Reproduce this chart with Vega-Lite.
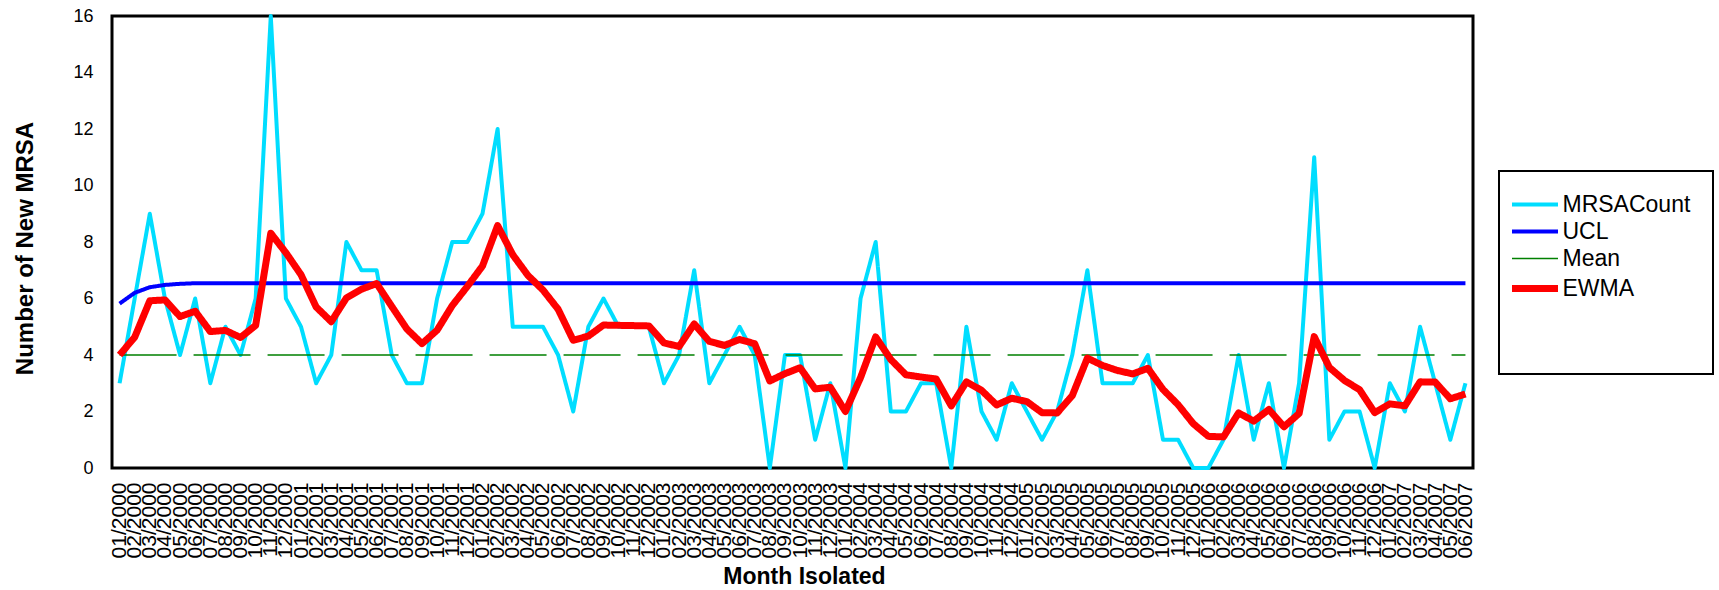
{
  "$schema": "https://vega.github.io/schema/vega-lite/v6.json",
  "width": 1361,
  "height": 452,
  "autosize": {"type": "none"},
  "padding": {"left": 112, "top": 16, "right": 246, "bottom": 122},
  "background": "white",
  "config": {
    "view": {"stroke": "black", "strokeWidth": 3},
    "font": "Liberation Sans",
    "legend": {"strokeWidth": 2}
  },
  "data": {
    "values": [
      {"month": "01/2000", "MRSACount": 3, "UCL": 5.82, "Mean": 4, "EWMA": 4.0},
      {"month": "02/2000", "MRSACount": 6, "UCL": 6.2, "Mean": 4, "EWMA": 4.63},
      {"month": "03/2000", "MRSACount": 9, "UCL": 6.4, "Mean": 4, "EWMA": 5.92},
      {"month": "04/2000", "MRSACount": 6, "UCL": 6.48, "Mean": 4, "EWMA": 5.95},
      {"month": "05/2000", "MRSACount": 4, "UCL": 6.52, "Mean": 4, "EWMA": 5.36},
      {"month": "06/2000", "MRSACount": 6, "UCL": 6.54, "Mean": 4, "EWMA": 5.55},
      {"month": "07/2000", "MRSACount": 3, "UCL": 6.54, "Mean": 4, "EWMA": 4.83},
      {"month": "08/2000", "MRSACount": 5, "UCL": 6.54, "Mean": 4, "EWMA": 4.87},
      {"month": "09/2000", "MRSACount": 4, "UCL": 6.54, "Mean": 4, "EWMA": 4.62},
      {"month": "10/2000", "MRSACount": 6, "UCL": 6.54, "Mean": 4, "EWMA": 5.05},
      {"month": "11/2000", "MRSACount": 16, "UCL": 6.54, "Mean": 4, "EWMA": 8.31},
      {"month": "12/2000", "MRSACount": 6, "UCL": 6.54, "Mean": 4, "EWMA": 7.62},
      {"month": "01/2001", "MRSACount": 5, "UCL": 6.54, "Mean": 4, "EWMA": 6.84},
      {"month": "02/2001", "MRSACount": 3, "UCL": 6.54, "Mean": 4, "EWMA": 5.7},
      {"month": "03/2001", "MRSACount": 4, "UCL": 6.54, "Mean": 4, "EWMA": 5.18},
      {"month": "04/2001", "MRSACount": 8, "UCL": 6.54, "Mean": 4, "EWMA": 6.02},
      {"month": "05/2001", "MRSACount": 7, "UCL": 6.54, "Mean": 4, "EWMA": 6.33},
      {"month": "06/2001", "MRSACount": 7, "UCL": 6.54, "Mean": 4, "EWMA": 6.53},
      {"month": "07/2001", "MRSACount": 4, "UCL": 6.54, "Mean": 4, "EWMA": 5.72},
      {"month": "08/2001", "MRSACount": 3, "UCL": 6.54, "Mean": 4, "EWMA": 4.92},
      {"month": "09/2001", "MRSACount": 3, "UCL": 6.54, "Mean": 4, "EWMA": 4.4},
      {"month": "10/2001", "MRSACount": 6, "UCL": 6.54, "Mean": 4, "EWMA": 4.88},
      {"month": "11/2001", "MRSACount": 8, "UCL": 6.54, "Mean": 4, "EWMA": 5.75},
      {"month": "12/2001", "MRSACount": 8, "UCL": 6.54, "Mean": 4, "EWMA": 6.43},
      {"month": "01/2002", "MRSACount": 9, "UCL": 6.54, "Mean": 4, "EWMA": 7.15},
      {"month": "02/2002", "MRSACount": 12, "UCL": 6.54, "Mean": 4, "EWMA": 8.58},
      {"month": "03/2002", "MRSACount": 5, "UCL": 6.54, "Mean": 4, "EWMA": 7.55},
      {"month": "04/2002", "MRSACount": 5, "UCL": 6.54, "Mean": 4, "EWMA": 6.82},
      {"month": "05/2002", "MRSACount": 5, "UCL": 6.54, "Mean": 4, "EWMA": 6.3},
      {"month": "06/2002", "MRSACount": 4, "UCL": 6.54, "Mean": 4, "EWMA": 5.62},
      {"month": "07/2002", "MRSACount": 2, "UCL": 6.54, "Mean": 4, "EWMA": 4.52},
      {"month": "08/2002", "MRSACount": 5, "UCL": 6.54, "Mean": 4, "EWMA": 4.67},
      {"month": "09/2002", "MRSACount": 6, "UCL": 6.54, "Mean": 4, "EWMA": 5.06},
      {"month": "10/2002", "MRSACount": 5, "UCL": 6.54, "Mean": 4, "EWMA": 5.05},
      {"month": "11/2002", "MRSACount": 5, "UCL": 6.54, "Mean": 4, "EWMA": 5.04},
      {"month": "12/2002", "MRSACount": 5, "UCL": 6.54, "Mean": 4, "EWMA": 5.03},
      {"month": "01/2003", "MRSACount": 3, "UCL": 6.54, "Mean": 4, "EWMA": 4.43},
      {"month": "02/2003", "MRSACount": 4, "UCL": 6.54, "Mean": 4, "EWMA": 4.3},
      {"month": "03/2003", "MRSACount": 7, "UCL": 6.54, "Mean": 4, "EWMA": 5.1},
      {"month": "04/2003", "MRSACount": 3, "UCL": 6.54, "Mean": 4, "EWMA": 4.48},
      {"month": "05/2003", "MRSACount": 4, "UCL": 6.54, "Mean": 4, "EWMA": 4.34},
      {"month": "06/2003", "MRSACount": 5, "UCL": 6.54, "Mean": 4, "EWMA": 4.55},
      {"month": "07/2003", "MRSACount": 4, "UCL": 6.54, "Mean": 4, "EWMA": 4.4},
      {"month": "08/2003", "MRSACount": 0, "UCL": 6.54, "Mean": 4, "EWMA": 3.08},
      {"month": "09/2003", "MRSACount": 4, "UCL": 6.54, "Mean": 4, "EWMA": 3.34},
      {"month": "10/2003", "MRSACount": 4, "UCL": 6.54, "Mean": 4, "EWMA": 3.55},
      {"month": "11/2003", "MRSACount": 1, "UCL": 6.54, "Mean": 4, "EWMA": 2.8},
      {"month": "12/2003", "MRSACount": 3, "UCL": 6.54, "Mean": 4, "EWMA": 2.86},
      {"month": "01/2004", "MRSACount": 0, "UCL": 6.54, "Mean": 4, "EWMA": 2.0},
      {"month": "02/2004", "MRSACount": 6, "UCL": 6.54, "Mean": 4, "EWMA": 3.2},
      {"month": "03/2004", "MRSACount": 8, "UCL": 6.54, "Mean": 4, "EWMA": 4.64},
      {"month": "04/2004", "MRSACount": 2, "UCL": 6.54, "Mean": 4, "EWMA": 3.84},
      {"month": "05/2004", "MRSACount": 2, "UCL": 6.54, "Mean": 4, "EWMA": 3.3},
      {"month": "06/2004", "MRSACount": 3, "UCL": 6.54, "Mean": 4, "EWMA": 3.22},
      {"month": "07/2004", "MRSACount": 3, "UCL": 6.54, "Mean": 4, "EWMA": 3.15},
      {"month": "08/2004", "MRSACount": 0, "UCL": 6.54, "Mean": 4, "EWMA": 2.2},
      {"month": "09/2004", "MRSACount": 5, "UCL": 6.54, "Mean": 4, "EWMA": 3.05},
      {"month": "10/2004", "MRSACount": 2, "UCL": 6.54, "Mean": 4, "EWMA": 2.75},
      {"month": "11/2004", "MRSACount": 1, "UCL": 6.54, "Mean": 4, "EWMA": 2.23},
      {"month": "12/2004", "MRSACount": 3, "UCL": 6.54, "Mean": 4, "EWMA": 2.47},
      {"month": "01/2005", "MRSACount": 2, "UCL": 6.54, "Mean": 4, "EWMA": 2.35},
      {"month": "02/2005", "MRSACount": 1, "UCL": 6.54, "Mean": 4, "EWMA": 1.96},
      {"month": "03/2005", "MRSACount": 2, "UCL": 6.54, "Mean": 4, "EWMA": 1.95},
      {"month": "04/2005", "MRSACount": 4, "UCL": 6.54, "Mean": 4, "EWMA": 2.56},
      {"month": "05/2005", "MRSACount": 7, "UCL": 6.54, "Mean": 4, "EWMA": 3.89},
      {"month": "06/2005", "MRSACount": 3, "UCL": 6.54, "Mean": 4, "EWMA": 3.63},
      {"month": "07/2005", "MRSACount": 3, "UCL": 6.54, "Mean": 4, "EWMA": 3.45},
      {"month": "08/2005", "MRSACount": 3, "UCL": 6.54, "Mean": 4, "EWMA": 3.33},
      {"month": "09/2005", "MRSACount": 4, "UCL": 6.54, "Mean": 4, "EWMA": 3.53},
      {"month": "10/2005", "MRSACount": 1, "UCL": 6.54, "Mean": 4, "EWMA": 2.78},
      {"month": "11/2005", "MRSACount": 1, "UCL": 6.54, "Mean": 4, "EWMA": 2.24},
      {"month": "12/2005", "MRSACount": 0, "UCL": 6.54, "Mean": 4, "EWMA": 1.57},
      {"month": "01/2006", "MRSACount": 0, "UCL": 6.54, "Mean": 4, "EWMA": 1.12},
      {"month": "02/2006", "MRSACount": 1, "UCL": 6.54, "Mean": 4, "EWMA": 1.1},
      {"month": "03/2006", "MRSACount": 4, "UCL": 6.54, "Mean": 4, "EWMA": 1.95},
      {"month": "04/2006", "MRSACount": 1, "UCL": 6.54, "Mean": 4, "EWMA": 1.66},
      {"month": "05/2006", "MRSACount": 3, "UCL": 6.54, "Mean": 4, "EWMA": 2.07},
      {"month": "06/2006", "MRSACount": 0, "UCL": 6.54, "Mean": 4, "EWMA": 1.46},
      {"month": "07/2006", "MRSACount": 3, "UCL": 6.54, "Mean": 4, "EWMA": 1.93},
      {"month": "08/2006", "MRSACount": 11, "UCL": 6.54, "Mean": 4, "EWMA": 4.65},
      {"month": "09/2006", "MRSACount": 1, "UCL": 6.54, "Mean": 4, "EWMA": 3.56},
      {"month": "10/2006", "MRSACount": 2, "UCL": 6.54, "Mean": 4, "EWMA": 3.1},
      {"month": "11/2006", "MRSACount": 2, "UCL": 6.54, "Mean": 4, "EWMA": 2.77},
      {"month": "12/2006", "MRSACount": 0, "UCL": 6.54, "Mean": 4, "EWMA": 1.96},
      {"month": "01/2007", "MRSACount": 3, "UCL": 6.54, "Mean": 4, "EWMA": 2.27},
      {"month": "02/2007", "MRSACount": 2, "UCL": 6.54, "Mean": 4, "EWMA": 2.2},
      {"month": "03/2007", "MRSACount": 5, "UCL": 6.54, "Mean": 4, "EWMA": 3.05},
      {"month": "04/2007", "MRSACount": 3, "UCL": 6.54, "Mean": 4, "EWMA": 3.04},
      {"month": "05/2007", "MRSACount": 1, "UCL": 6.54, "Mean": 4, "EWMA": 2.45},
      {"month": "06/2007", "MRSACount": 3, "UCL": 6.54, "Mean": 4, "EWMA": 2.62}
    ]
  },
  "transform": [
    {"fold": ["MRSACount", "UCL", "Mean", "EWMA"], "as": ["series", "value"]}
  ],
  "mark": {"type": "line", "strokeJoin": "round"},
  "encoding": {
    "x": {
      "field": "month",
      "type": "ordinal",
      "sort": null,
      "axis": {
        "title": "Month Isolated",
        "titleFont": "Liberation Sans",
        "titleFontSize": 23,
        "titleFontWeight": "bold",
        "titleColor": "black",
        "titleBaseline": "alphabetic",
        "titleX": 692,
        "titleY": 115,
        "labelAngle": -90,
        "labelAlign": "right",
        "labelBaseline": "middle",
        "labelFontSize": 21,
        "labelColor": "black",
        "labelPadding": 14,
        "labelOverlap": false,
        "labelBound": false,
        "labelFlush": false,
        "ticks": false,
        "domain": false,
        "grid": false
      }
    },
    "y": {
      "field": "value",
      "type": "quantitative",
      "scale": {"domain": [0, 16], "nice": false, "zero": true},
      "axis": {
        "title": "Number of New MRSA",
        "titleFont": "Liberation Sans",
        "titleFontSize": 24,
        "titleFontWeight": "bold",
        "titleColor": "black",
        "titleBaseline": "alphabetic",
        "titleX": -80,
        "titleY": 232,
        "values": [0, 2, 4, 6, 8, 10, 12, 14, 16],
        "labelFontSize": 18,
        "labelColor": "black",
        "labelPadding": 19,
        "labelFlush": false,
        "ticks": false,
        "domain": false,
        "grid": false
      }
    },
    "color": {
      "field": "series",
      "type": "nominal",
      "scale": {
        "domain": ["MRSACount", "UCL", "Mean", "EWMA"],
        "range": ["#00DDFF", "#0000FF", "#008000", "#FF0000"]
      },
      "legend": {
        "title": " ",
        "titleOrient": "bottom",
        "titleFontSize": 11,
        "titlePadding": 38,
        "orient": "none",
        "legendX": 1387,
        "legendY": 155,
        "padding": 22,
        "rowPadding": 3,
        "labelFont": "Liberation Sans",
        "labelFontSize": 23,
        "labelColor": "black",
        "labelOffset": 16,
        "symbolOffset": 2.5,
        "symbolType": "M-23,0H23",
        "symbolSize": 4,
        "strokeColor": "black",
        "fillColor": "white",
        "cornerRadius": 0
      }
    },
    "strokeWidth": {
      "field": "series",
      "type": "nominal",
      "scale": {
        "type": "ordinal",
        "domain": ["MRSACount", "UCL", "Mean", "EWMA"],
        "range": [4, 4, 1.5, 7]
      }
    },
    "strokeDash": {
      "field": "series",
      "type": "nominal",
      "scale": {
        "domain": ["MRSACount", "UCL", "Mean", "EWMA"],
        "range": [[1, 0], [1, 0], [57, 17], [1, 0]]
      }
    }
  }
}
